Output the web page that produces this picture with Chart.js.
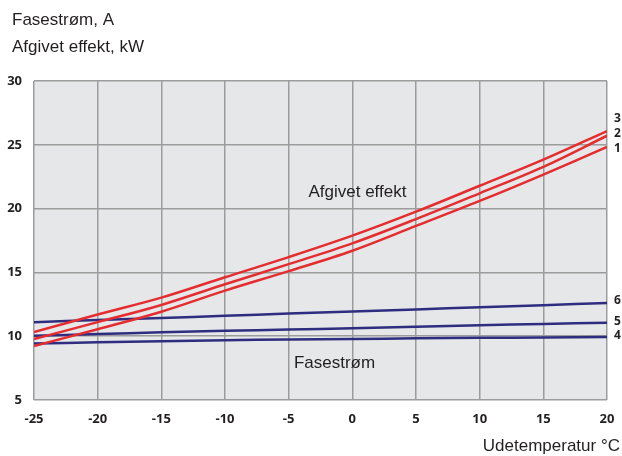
<!DOCTYPE html>
<html>
<head>
<meta charset="utf-8">
<script src="https://cdn.jsdelivr.net/npm/chart.js@4/dist/chart.umd.min.js"></script>
<style>
  html, body { margin: 0; padding: 0; background: #ffffff; }
  #wrap { width: 622px; height: 456px; }
</style>
</head>
<body>
<div id="wrap"><canvas id="c" width="622" height="456"></canvas></div>
<script>
// Outdoor temperature, °C
const temperatures = [-25, -20, -15, -10, -5, 0, 5, 10, 15, 20];
const yTicks = [5, 10, 15, 20, 25, 30];

// Delivered output, kW (curves 1-3)
const effekt1 = [9.23, 10.55, 11.92, 13.57, 15.10, 16.70, 18.64, 20.60, 22.67, 24.83];
const effekt2 = [9.78, 11.10, 12.45, 14.07, 15.65, 17.28, 19.18, 21.20, 23.27, 25.71];
const effekt3 = [10.33, 11.70, 13.02, 14.62, 16.20, 17.88, 19.76, 21.79, 23.84, 26.08];

// Phase current, A (curves 4-6)
const strom4 = [9.42, 9.52, 9.60, 9.68, 9.74, 9.78, 9.83, 9.87, 9.90, 9.94];
const strom5 = [10.03, 10.17, 10.30, 10.42, 10.52, 10.62, 10.75, 10.86, 10.96, 11.05];
const strom6 = [11.10, 11.27, 11.43, 11.60, 11.77, 11.93, 12.10, 12.27, 12.43, 12.60];

const RED = '#e52d2f';
const NAVY = '#2e2d7f';
const TEXT = '#231f20';
const TEXT_FONT = '17px "Liberation Sans", Arial, sans-serif';
const TICK_FONT = { family: '"Open Sans", Arial, sans-serif', size: 13, weight: 'bold' };

function pts(vals) {
  return temperatures.map((t, i) => ({ x: t, y: vals[i] }));
}

function line(label, vals, color, dy) {
  return {
    label: label,
    data: pts(vals),
    borderColor: color,
    borderWidth: 2.5,
    pointRadius: 0,
    tension: 0.35,
    fill: false,
    endLabelDy: dy
  };
}

const decor = {
  id: 'decor',
  beforeDraw(chart) {
    const { ctx, chartArea: a } = chart;
    ctx.save();
    ctx.fillStyle = '#e6e7e9';
    ctx.fillRect(a.left, a.top, a.right - a.left, a.bottom - a.top);
    ctx.restore();
  },
  afterDraw(chart) {
    const { ctx, chartArea: a, scales } = chart;
    const xs = scales.x, ys = scales.y;
    ctx.save();
    ctx.fillStyle = TEXT;
    ctx.font = TEXT_FONT;
    ctx.textBaseline = 'middle';
    ctx.textAlign = 'left';
    ctx.fillText('Fasestrøm, A', 12, 20);
    ctx.fillText('Afgivet effekt, kW', 12, 47);

    ctx.textAlign = 'right';
    ctx.fillText('Udetemperatur °C', 620, 446);

    ctx.textAlign = 'center';
    ctx.fillText('Afgivet effekt', xs.getPixelForValue(0.4), ys.getPixelForValue(21.3));
    ctx.fillText('Fasestrøm', xs.getPixelForValue(-1.4), ys.getPixelForValue(7.9));

    // curve numbers at the right end of each line
    ctx.font = 'bold 12px "Open Sans", Arial, sans-serif';
    ctx.textAlign = 'left';
    chart.data.datasets.forEach(ds => {
      const last = ds.data[ds.data.length - 1];
      const y = ys.getPixelForValue(last.y) + (ds.endLabelDy || 0);
      ctx.fillText(ds.label, a.right + 7, y);
    });
    ctx.restore();
  }
};

new Chart(document.getElementById('c'), {
  type: 'line',
  data: {
    datasets: [
      line('1', effekt1, RED, 2),
      line('2', effekt2, RED, -2),
      line('3', effekt3, RED, -12),
      line('4', strom4, NAVY, -1),
      line('5', strom5, NAVY, -1),
      line('6', strom6, NAVY, -2)
    ]
  },
  options: {
    responsive: false,
    animation: false,
    layout: { padding: { left: 0, top: 81, right: 15, bottom: 0 } },
    plugins: { legend: { display: false }, tooltip: { enabled: false } },
    scales: {
      x: {
        type: 'linear',
        min: temperatures[0],
        max: temperatures[temperatures.length - 1],
        afterBuildTicks(scale) { scale.ticks = temperatures.map(v => ({ value: v })); },
        afterFit(scale) {
          scale.height = 56;
          scale.paddingLeft = 0;
          scale.paddingRight = 0;
        },
        grid: { color: '#9c9c9c', lineWidth: 1.5, drawTicks: false },
        border: { display: false },
        ticks: { padding: 11, color: TEXT, font: TICK_FONT }
      },
      y: {
        min: yTicks[0],
        max: yTicks[yTicks.length - 1],
        afterBuildTicks(scale) { scale.ticks = yTicks.map(v => ({ value: v })); },
        afterFit(scale) {
          scale.width = 34;
          scale.paddingTop = 0;
          scale.paddingBottom = 0;
        },
        grid: { color: '#9c9c9c', lineWidth: 1.5, drawTicks: false },
        border: { display: false },
        ticks: { padding: 12, color: TEXT, font: TICK_FONT }
      }
    }
  },
  plugins: [decor]
});
</script>
</body>
</html>
